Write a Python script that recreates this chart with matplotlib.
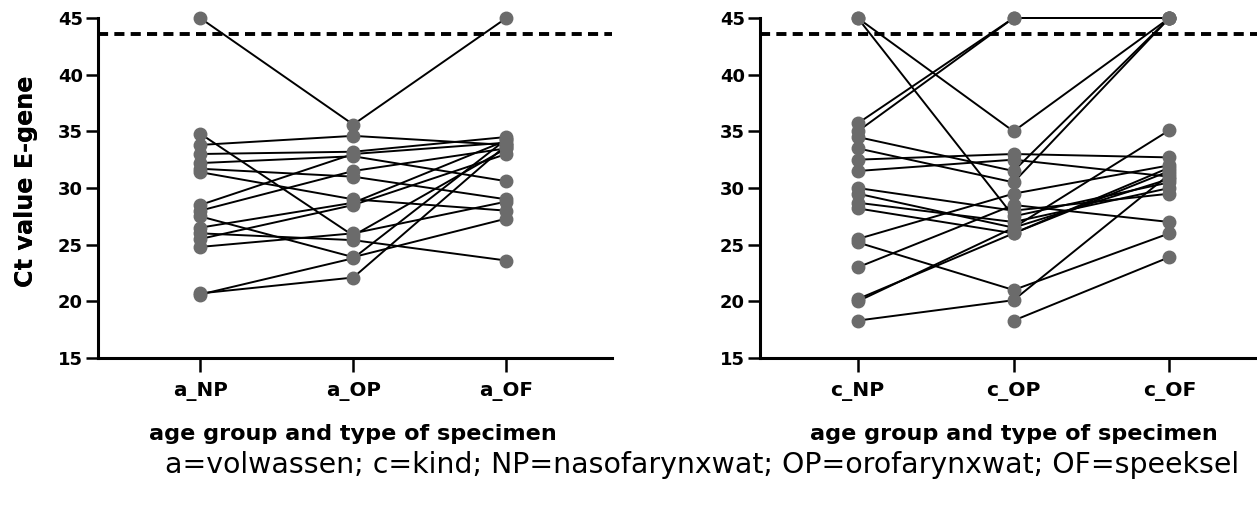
import numpy as np
import matplotlib
matplotlib.use("Agg")
import matplotlib.pyplot as plt

# ---- data ----
a_categories = ["a_NP", "a_OP", "a_OF"]
c_categories = ["c_NP", "c_OP", "c_OF"]

a_NP = [45.0, 34.8, 33.8, 33.0, 32.2, 31.7, 31.4, 28.5, 28.0, 27.5, 26.5, 26.0, 25.5, 24.8, 20.7, 20.6]
a_OP = [35.6, 25.8, 34.6, 33.2, 32.8, 31.0, 29.0, 33.0, 31.5, 23.9, 28.7, 25.4, 28.5, 26.0, 22.1, 23.8]
a_OF = [45.0, 33.5, 33.8, 34.5, 30.6, 29.0, 28.0, 34.0, 33.5, 27.3, 34.2, 23.6, 33.0, 28.8, 33.8, 34.3]

c_NP = [45.0, 45.0, 35.7, 35.0, 34.5, 33.5, 32.5, 31.5, 30.0, 29.5, 28.7, 28.2, 25.5, 25.2, 23.0, 20.2, 20.0, 18.3, np.nan]
c_OP = [35.0, 27.5, 45.0, 45.0, 31.5, 30.5, 33.0, 32.5, 28.0, 26.5, 27.0, 26.0, 29.5, 21.0, 28.5, 26.0, 26.5, 20.1, 18.3]
c_OF = [45.0, 30.5, 45.0, 45.0, 45.0, 45.0, 32.7, 31.0, 29.5, 35.1, 30.0, 31.5, 32.0, 26.0, 27.0, 31.8, 30.8, 31.2, 23.9]

cutoff = 43.6
yticks = [15, 20, 25, 30, 35, 40, 45]
ylabel = "Ct value E-gene"
xlabel = "age group and type of specimen"
caption = "a=volwassen; c=kind; NP=nasofarynxwat; OP=orofarynxwat; OF=speeksel"

FONT = ['DejaVu Sans']
plt.rcParams['font.family'] = FONT

W, H = 1257, 507
fig = plt.figure(figsize=(W / 100, H / 100), dpi=100)

top = 1 - 18 / H
bot = 1 - 358 / H
axL = fig.add_axes([98 / W, bot, (612 - 98) / W, top - bot])
axR = fig.add_axes([760 / W, bot, 0.41, top - bot])


def draw(ax, cats, s1, s2, s3, xlim):
    x = np.arange(len(cats))
    for v in zip(s1, s2, s3):
        ax.plot(x, v, color='black', lw=1.4, zorder=2, clip_on=False)
    for i, s in enumerate([s1, s2, s3]):
        ax.plot(np.full(len(s), x[i]), s, 'o', color='#6b6b6b', ms=9, zorder=3,
                clip_on=False)
    ax.axhline(cutoff, color='black', lw=2.8, ls=(0, (2.6, 1.6)), zorder=1)
    ax.set_xlim(*xlim)
    ax.set_ylim(15, 45)
    ax.set_yticks(yticks)
    ax.set_xticks(x)
    ax.set_xticklabels(cats, fontsize=13, fontweight='bold')
    for lab in ax.get_yticklabels():
        lab.set_fontweight('bold')
    ax.tick_params(axis='y', labelsize=13, length=9, width=1.8, pad=2)
    ax.tick_params(axis='x', length=10, width=1.8, pad=7)
    for sp in ['top', 'right']:
        ax.spines[sp].set_visible(False)
    for sp in ['left', 'bottom']:
        ax.spines[sp].set_linewidth(2.2)
    ax.set_ylabel(ylabel, fontsize=13, fontweight='bold')
    ax.set_xlabel(xlabel, fontsize=13, fontweight='bold')


draw(axL, a_categories, a_NP, a_OP, a_OF, (-0.667, 2.69))
draw(axR, c_categories, c_NP, c_OP, c_OF, (-0.627, 2.68))

cap = fig.text(702 / W, 1 - 465 / H, caption, ha='center', va='center', fontsize=16)

# ---- size the texts to the widths measured on the reference ----
fig.canvas.draw()
r = fig.canvas.get_renderer()


def fit(t, target, vertical=False):
    bb = t.get_window_extent(r)
    cur = bb.height if vertical else bb.width
    t.set_fontsize(t.get_fontsize() * target / cur)


for ax in (axL, axR):
    fit(ax.yaxis.label, 210, vertical=True)
    fit(ax.xaxis.label, 405)
    xt = ax.get_xticklabels()
    fit(xt[0], 54)
    fs = xt[0].get_fontsize()
    for t in xt:
        t.set_fontsize(fs)
    yt = ax.get_yticklabels()
    fit(yt[-1], 25)
    fs = yt[-1].get_fontsize()
    for t in yt:
        t.set_fontsize(fs)
fit(cap, 1075)

# label positions (axes fraction)
for ax, x0 in ((axL, 98), (axR, 760)):
    ax.yaxis.set_label_coords((26 - x0) / (ax.get_position().width * W), 0.52)
    mid = ax.transData.transform((1, 15))[0]
    ax.xaxis.set_label_coords((mid - x0) / (ax.get_position().width * W), (358 - 434) / 340)
    ax.xaxis.label.set_va('center')
    ax.yaxis.label.set_va('center')

fig.savefig("out.png", dpi=100)
